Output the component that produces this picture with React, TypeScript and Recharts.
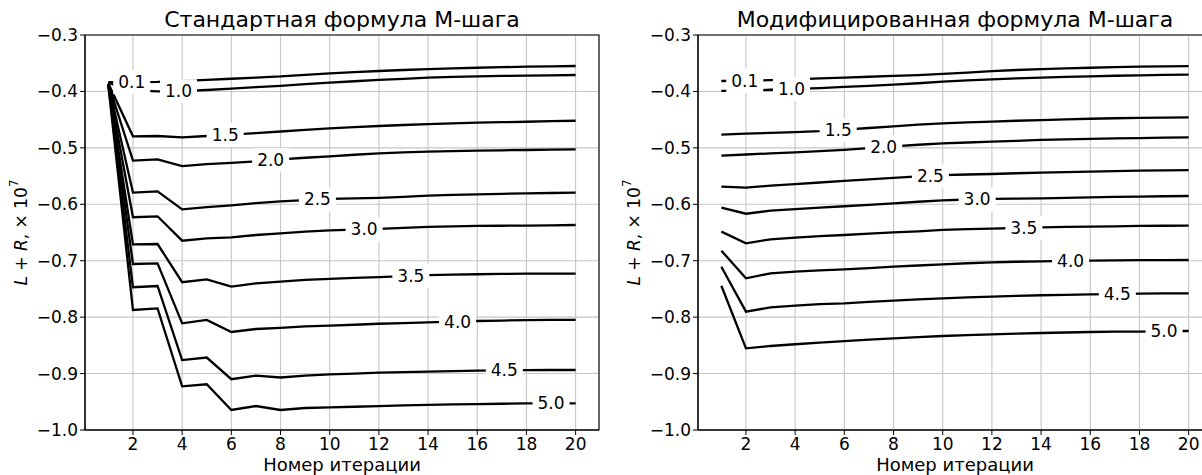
import React from 'react'
import {
  LineChart,
  Line,
  XAxis,
  YAxis,
  CartesianGrid,
  ReferenceDot,
  ReferenceArea,
} from 'recharts'

const FONT = '"DejaVu Sans", sans-serif'

const iterations = [1, 2, 3, 4, 5, 6, 7, 8, 9, 10, 11, 12, 13, 14, 15, 16, 17, 18, 19, 20]
const levels = ['0.1', '1.0', '1.5', '2.0', '2.5', '3.0', '3.5', '4.0', '4.5', '5.0']
const labelX = [1.95, 3.85, 5.75, 7.6, 9.5, 11.4, 13.3, 15.2, 17.1, 19.0]
const xTicks = [2, 4, 6, 8, 10, 12, 14, 16, 18, 20]
const yTicks = [-1.0, -0.9, -0.8, -0.7, -0.6, -0.5, -0.4, -0.3]

// Стандартная формула М-шага
const std01 = [-0.3835, -0.3835, -0.383, -0.3815, -0.3795, -0.3775, -0.3755, -0.3735, -0.3705, -0.368, -0.3658, -0.3638, -0.362, -0.3603, -0.359, -0.358, -0.357, -0.3562, -0.3555, -0.3549]
const std10 = [-0.385, -0.398, -0.4, -0.3995, -0.3975, -0.395, -0.3925, -0.39, -0.387, -0.3843, -0.382, -0.3797, -0.3776, -0.3756, -0.3743, -0.3732, -0.3724, -0.372, -0.3715, -0.3709]
const std15 = [-0.386, -0.4796, -0.479, -0.4814, -0.479, -0.4765, -0.474, -0.471, -0.468, -0.4655, -0.4632, -0.4613, -0.4595, -0.4578, -0.4565, -0.4554, -0.4545, -0.4537, -0.4528, -0.452]
const std20 = [-0.3865, -0.5227, -0.5203, -0.5322, -0.529, -0.5265, -0.524, -0.5205, -0.5175, -0.515, -0.5122, -0.5097, -0.508, -0.5068, -0.5058, -0.505, -0.5043, -0.5038, -0.5032, -0.5026]
const std25 = [-0.387, -0.5794, -0.577, -0.609, -0.605, -0.6018, -0.598, -0.5947, -0.5925, -0.5905, -0.5895, -0.5885, -0.5868, -0.5847, -0.5835, -0.5824, -0.5815, -0.5806, -0.58, -0.5794]
const std30 = [-0.3875, -0.623, -0.6213, -0.6645, -0.6604, -0.6585, -0.6544, -0.6514, -0.6485, -0.6462, -0.6448, -0.6435, -0.6418, -0.6402, -0.6393, -0.6384, -0.638, -0.6378, -0.6372, -0.6367]
const std35 = [-0.388, -0.671, -0.6704, -0.738, -0.733, -0.746, -0.74, -0.737, -0.734, -0.7322, -0.7305, -0.729, -0.7272, -0.7255, -0.7246, -0.724, -0.7235, -0.723, -0.723, -0.7228]
const std40 = [-0.3885, -0.7058, -0.7046, -0.811, -0.805, -0.8263, -0.821, -0.819, -0.8165, -0.815, -0.8135, -0.8117, -0.8105, -0.8093, -0.808, -0.8068, -0.806, -0.8053, -0.805, -0.805]
const std45 = [-0.389, -0.747, -0.7448, -0.876, -0.8716, -0.91, -0.9037, -0.907, -0.9035, -0.9015, -0.9, -0.8984, -0.8975, -0.8966, -0.8957, -0.8948, -0.8943, -0.894, -0.8937, -0.8937]
const std50 = [-0.3895, -0.7873, -0.7844, -0.9226, -0.919, -0.9645, -0.9575, -0.9645, -0.961, -0.96, -0.9588, -0.9577, -0.9565, -0.9553, -0.9547, -0.9541, -0.9535, -0.9529, -0.9529, -0.9529]

// Модифицированная формула М-шага
const mod01 = [-0.3815, -0.381, -0.38, -0.3785, -0.377, -0.3755, -0.374, -0.3725, -0.371, -0.369, -0.3665, -0.364, -0.362, -0.3603, -0.359, -0.358, -0.357, -0.356, -0.3555, -0.355]
const mod10 = [-0.399, -0.3985, -0.397, -0.3955, -0.394, -0.392, -0.39, -0.388, -0.3855, -0.3825, -0.3803, -0.3785, -0.377, -0.3756, -0.3743, -0.3732, -0.3722, -0.3715, -0.3708, -0.3703]
const mod15 = [-0.4766, -0.4748, -0.4735, -0.4722, -0.4705, -0.4678, -0.4648, -0.4618, -0.459, -0.4565, -0.4548, -0.4535, -0.452, -0.4507, -0.4495, -0.4484, -0.4475, -0.4468, -0.4463, -0.446]
const mod20 = [-0.5138, -0.5118, -0.5098, -0.508, -0.5058, -0.5035, -0.5005, -0.4975, -0.4945, -0.492, -0.4905, -0.489, -0.4875, -0.486, -0.485, -0.484, -0.4832, -0.4826, -0.482, -0.4814]
const mod25 = [-0.5688, -0.5705, -0.567, -0.5642, -0.5614, -0.5586, -0.5558, -0.5532, -0.5505, -0.5485, -0.5472, -0.5463, -0.545, -0.544, -0.543, -0.5422, -0.5412, -0.5404, -0.5398, -0.5393]
const mod30 = [-0.606, -0.6167, -0.6113, -0.6085, -0.606, -0.6035, -0.601, -0.5985, -0.5955, -0.593, -0.5915, -0.5905, -0.59, -0.5894, -0.5885, -0.5877, -0.587, -0.5865, -0.5858, -0.5853]
const mod35 = [-0.6485, -0.6692, -0.662, -0.659, -0.6565, -0.6544, -0.652, -0.6497, -0.648, -0.6455, -0.644, -0.643, -0.642, -0.641, -0.6402, -0.6396, -0.639, -0.6384, -0.638, -0.6378]
const mod40 = [-0.6822, -0.7312, -0.7223, -0.7195, -0.7172, -0.7152, -0.713, -0.7106, -0.7085, -0.7064, -0.7045, -0.703, -0.7018, -0.701, -0.7003, -0.6998, -0.6994, -0.6991, -0.6989, -0.6987]
const mod45 = [-0.7106, -0.7903, -0.7826, -0.7795, -0.777, -0.7755, -0.773, -0.7708, -0.7685, -0.7667, -0.765, -0.7635, -0.7622, -0.7612, -0.7605, -0.7598, -0.7592, -0.7585, -0.758, -0.7578]
const mod50 = [-0.7443, -0.8553, -0.8511, -0.848, -0.845, -0.8425, -0.84, -0.8375, -0.8355, -0.8334, -0.832, -0.8305, -0.8292, -0.8281, -0.8272, -0.8263, -0.8258, -0.8255, -0.825, -0.8246]

const standard = [std01, std10, std15, std20, std25, std30, std35, std40, std45, std50]
const modified = [mod01, mod10, mod15, mod20, mod25, mod30, mod35, mod40, mod45, mod50]

function buildRows(series: number[][]) {
  return iterations.map((x, i) => {
    const row: Record<string, number> = { x }
    series.forEach((s, k) => {
      row['s' + k] = s[i]
    })
    return row
  })
}

// y of a series at a fractional x, used only to place the inline labels on their line
function valueAt(s: number[], x: number) {
  const i = Math.max(0, Math.min(Math.floor(x) - 1, s.length - 2))
  const t = x - iterations[i]
  return s[i] + (s[i + 1] - s[i]) * t
}

const fmt = (v: number) => v.toFixed(1).replace('-', '\u2212')

function InlineLabel({ cx, cy, text }: { cx: number; cy: number; text: string }) {
  const fs = 17
  const w = fs * 1.59 + 10
  return (
    <g>
      <rect x={cx - w / 2} y={cy - 12} width={w} height={24} fill='#fff' />
      <text x={cx} y={cy} textAnchor='middle' dominantBaseline='central' fontSize={fs} fontFamily={FONT} fill='#000'>
        {text}
      </text>
    </g>
  )
}

function YLabel(props: any) {
  const vb = props.viewBox || {}
  const x = vb.x + vb.width - 64
  const y = vb.y + vb.height / 2
  return (
    <text
      x={x}
      y={y}
      transform={`rotate(-90, ${x}, ${y})`}
      textAnchor='middle'
      dominantBaseline='central'
      fontSize={17}
      fontFamily={FONT}
      fill='#000'
    >
      <tspan fontStyle='italic'>L</tspan>
      <tspan> + </tspan>
      <tspan fontStyle='italic'>R</tspan>
      <tspan>, × 10</tspan>
      <tspan dy={-7} fontSize={12}>7</tspan>
    </text>
  )
}

type PanelProps = {
  title: string
  series: number[][]
  left: number
  width: number
  axisWidth: number
  rightMargin: number
}

function Panel({ title, series, left, width, axisWidth, rightMargin }: PanelProps) {
  const rows = buildRows(series)
  const plotLeft = axisWidth
  const plotWidth = width - axisWidth - rightMargin
  return (
    <div style={{ position: 'absolute', left, top: 0, width, height: 475 }}>
      <div
        style={{
          position: 'absolute',
          left: plotLeft,
          width: plotWidth,
          top: 9,
          textAlign: 'center',
          fontFamily: FONT,
          fontSize: 22,
          lineHeight: '22px',
          color: '#000',
          whiteSpace: 'nowrap',
        }}
      >
        {title}
      </div>
      <LineChart width={width} height={475} data={rows} margin={{ top: 35, right: rightMargin, bottom: 0, left: 0 }}>
        <CartesianGrid stroke='#c6c6c6' strokeWidth={1.1} />
        <XAxis
          type='number'
          dataKey='x'
          domain={[0.05, 20.95]}
          ticks={xTicks}
          allowDataOverflow
          height={45}
          tickSize={5}
          tickMargin={3}
          stroke='#000'
          tick={{ fontSize: 17, fill: '#000', fontFamily: FONT }}
          label={{ value: 'Номер итерации', position: 'insideBottom', offset: 4, fontSize: 18, fill: '#000', fontFamily: FONT }}
        />
        <YAxis
          type='number'
          domain={[-1.0, -0.3]}
          ticks={yTicks}
          allowDataOverflow
          width={axisWidth}
          tickSize={5}
          tickMargin={2}
          stroke='#000'
          tickFormatter={fmt}
          tick={{ fontSize: 17, fill: '#000', fontFamily: FONT }}
          label={YLabel}
        />
        <ReferenceArea x1={0.05} x2={20.95} y1={-1.0} y2={-0.3} fill='none' stroke='#000' strokeWidth={1.1} />
        {series.map((_, k) => (
          <Line
            key={k}
            dataKey={'s' + k}
            type='linear'
            stroke='#000'
            strokeWidth={2.3}
            dot={false}
            activeDot={false}
            isAnimationActive={false}
          />
        ))}
        {series.map((s, k) => (
          <ReferenceDot
            key={'l' + k}
            x={labelX[k]}
            y={valueAt(s, labelX[k])}
            r={0}
            ifOverflow='visible'
            zIndex={1500}
            shape={(p: any) => <InlineLabel cx={p.cx} cy={p.cy} text={levels[k]} />}
          />
        ))}
      </LineChart>
    </div>
  )
}

export default function App() {
  return (
    <div
      style={{
        position: 'absolute',
        left: 0,
        top: 0,
        width: 1202,
        height: 475,
        overflow: 'hidden',
        background: '#fff',
      }}
    >
      <Panel title='Стандартная формула М-шага' series={standard} left={0} width={640} axisWidth={85} rightMargin={41} />
      <Panel title='Модифицированная формула М-шага' series={modified} left={600} width={620} axisWidth={98} rightMargin={8} />
    </div>
  )
}
